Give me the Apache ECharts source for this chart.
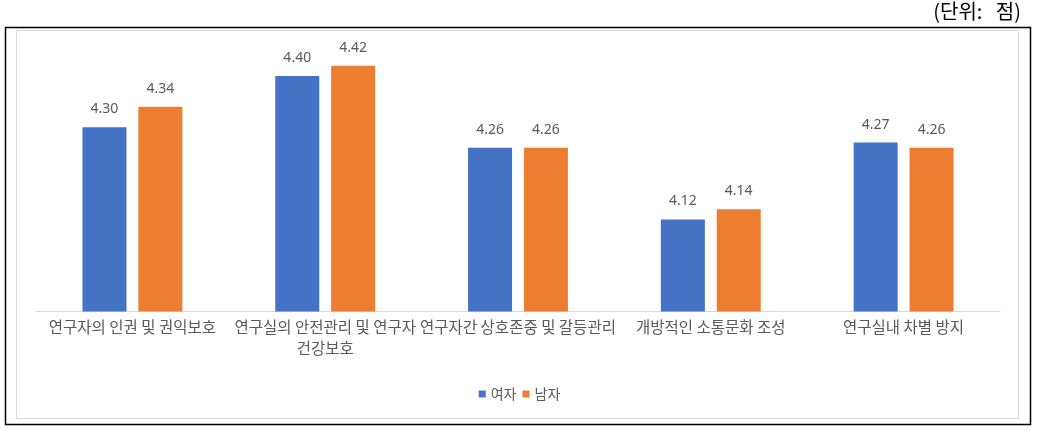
<!DOCTYPE html>
<html>
<head>
<meta charset="utf-8">
<script src="https://cdn.jsdelivr.net/npm/echarts@6/dist/echarts.min.js"></script>
<style>
html,body{margin:0;padding:0;background:#fff;}
#c{width:1039px;height:431px;}
</style>
</head>
<body>
<div id="c"></div>
<script>
const categories = ['연구자의 인권 및 권익보호', '연구실의 안전관리 및 연구자\n건강보호', '연구자간 상호존중 및 갈등관리', '개방적인 소통문화 조성', '연구실내 차별 방지'];
const seriesNames = ['여자', '남자'];
const female = [4.30, 4.40, 4.26, 4.12, 4.27];
const male = [4.34, 4.42, 4.26, 4.14, 4.26];
const unitText = '(단위:   점)';

const chart = echarts.init(document.getElementById('c'), null, {renderer: 'canvas'});
const labelStyle = {
  show: true, position: 'top', distance: 11,
  color: '#595959', fontSize: 14, fontFamily: 'Noto Sans, sans-serif',
  formatter: p => p.value.toFixed(2)
};
chart.setOption({
  animation: false,
  backgroundColor: '#fff',
  graphic: [
    {type: 'rect', shape: {x: 5.5, y: 27.5, width: 1025, height: 397}, style: {fill: 'none', stroke: '#000', lineWidth: 1.5}, z: 0},
    {type: 'rect', shape: {x: 16.5, y: 30.5, width: 1002, height: 388}, style: {fill: 'none', stroke: '#d9d9d9', lineWidth: 1}, z: 0},
    {type: 'text', right: 18, top: 1, style: {text: unitText, fill: '#000', font: '20px "Noto Sans CJK KR", sans-serif'}}
  ],
  grid: {left: 36, right: 39, top: 24.9, bottom: 119.5, containLabel: false},
  legend: {
    data: seriesNames, top: 387, left: 'center', padding: 0,
    icon: 'rect', itemWidth: 7, itemHeight: 7, itemGap: 6,
    textStyle: {color: '#595959', fontSize: 14, fontFamily: '"Noto Sans CJK KR", sans-serif'}
  },
  xAxis: {
    type: 'category', data: categories,
    axisLine: {show: true, lineStyle: {color: '#d9d9d9', width: 1}},
    axisTick: {show: false},
    axisLabel: {interval: 0, margin: 5, color: '#595959', fontSize: 15.5, lineHeight: 21, fontFamily: '"Noto Sans CJK KR", sans-serif'}
  },
  yAxis: {
    type: 'value', min: 3.94, max: 4.5, show: false,
    splitLine: {show: false}
  },
  series: [
    {name: seriesNames[0], type: 'bar', data: female, barWidth: 44, barGap: '27%', itemStyle: {color: '#4472C4'}, label: labelStyle},
    {name: seriesNames[1], type: 'bar', data: male, barWidth: 44, barGap: '27%', itemStyle: {color: '#ED7D31'}, label: labelStyle}
  ]
});
</script>
</body>
</html>
